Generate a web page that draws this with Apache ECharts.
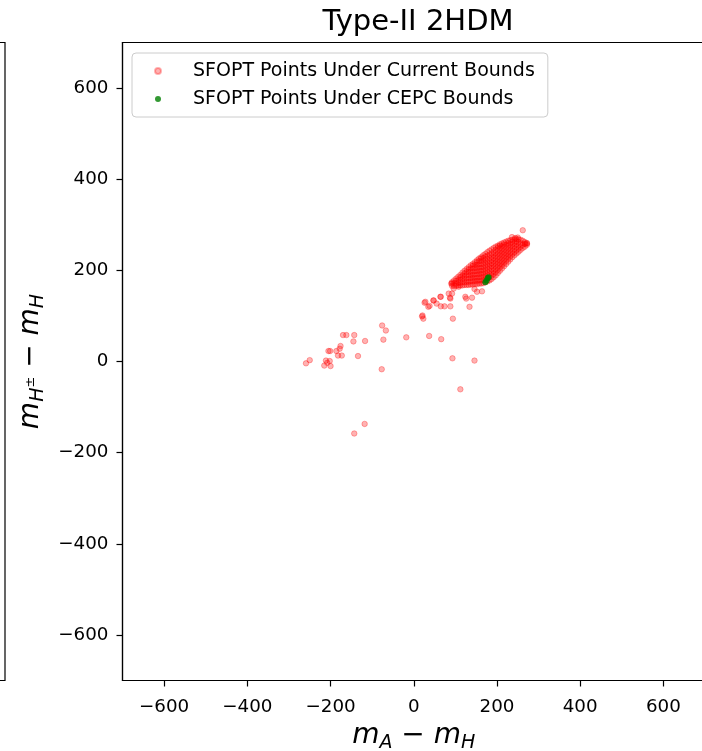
<!DOCTYPE html>
<html>
<head>
<meta charset="utf-8">
<script src="https://cdn.jsdelivr.net/npm/echarts@6/dist/echarts.min.js"></script>
<style>
  html, body { margin: 0; padding: 0; background: #fff; }
  #chart { width: 702px; height: 751px; }
</style>
</head>
<body>
<div id="chart"></div>
<script>
// tick labels on both axes
const xTicks = [-600, -400, -200, 0, 200, 400, 600];
const yTicks = [-600, -400, -200, 0, 200, 400, 600];

// SFOPT points under current bounds: scattered ones
const currentScatter = [
  [-259, -4], [-250, 3], [-215, -9], [-208, -3], [-200, -10], [-211, 2], [-202, 1],
  [-205, 23], [-201, 23], [-186, 23], [-176, 34], [-178, 28], [-182, 13], [-173, 13],
  [-170, 58], [-162, 58], [-143, 58], [-145, 44], [-134, 12], [-117, 45],
  [-76, 79], [-67, 68], [-73, 48], [-77, -17], [-18, 53], [37, 56], [66, 49],
  [93, 7], [146, 2], [112, -61], [-118, -137], [-143, -158],
  [94, 94], [21, 101], [23, 94], [26, 129], [35, 120], [38, 122], [47, 134], [55, 127],
  [65, 142], [65, 121], [74, 121], [88, 121], [87, 140], [20, 99], [28, 131], [48, 134],
  [64, 142], [88, 138], [92, 149], [126, 138], [134, 120], [152, 153], [146, 159],
  [90, 171], [108, 164], [96, 160], [124, 142], [140, 140], [164, 154], [84, 149],
  [262, 288], [268, 259], [272, 259], [236, 273], [250, 272], [244, 271]
];

// SFOPT points under current bounds: dense band, read column by column (x, [y...])
const currentBand = [
  [92, [166, 171, 174]],
  [97, [166, 172, 178]],
  [102, [166, 171, 177, 182]],
  [107, [167, 173, 179, 186]],
  [112, [167, 173, 179, 185, 190]],
  [117, [167, 174, 181, 188, 195]],
  [122, [168, 174, 181, 187, 193, 199]],
  [127, [168, 175, 182, 189, 196, 203]],
  [132, [168, 175, 182, 189, 196, 202, 207]],
  [137, [169, 176, 183, 190, 197, 204, 211]],
  [142, [169, 176, 183, 190, 197, 204, 210, 214]],
  [147, [170, 177, 184, 191, 198, 205, 212, 218]],
  [152, [170, 177, 184, 191, 198, 205, 212, 218, 222]],
  [157, [171, 178, 185, 192, 199, 206, 213, 220, 226]],
  [162, [171, 178, 185, 192, 199, 206, 213, 220, 226, 229]],
  [167, [172, 179, 186, 193, 200, 207, 214, 221, 227, 233]],
  [172, [174, 181, 188, 195, 202, 209, 216, 223, 230, 236]],
  [177, [176, 183, 190, 197, 204, 211, 218, 225, 232, 240]],
  [182, [178, 185, 192, 199, 206, 213, 220, 227, 234, 243]],
  [187, [181, 188, 195, 202, 209, 216, 223, 230, 237, 246]],
  [192, [185, 192, 199, 206, 213, 220, 227, 234, 241, 249]],
  [197, [189, 196, 203, 210, 217, 224, 231, 238, 245, 252]],
  [202, [194, 201, 208, 215, 222, 229, 236, 243, 250, 254]],
  [207, [199, 206, 213, 220, 227, 234, 241, 248, 254, 257]],
  [212, [204, 211, 218, 225, 232, 239, 246, 253, 259]],
  [217, [209, 216, 223, 230, 237, 244, 251, 257, 261]],
  [222, [214, 221, 228, 235, 242, 249, 256, 263]],
  [227, [219, 226, 233, 240, 247, 254, 260, 265]],
  [232, [224, 231, 238, 245, 252, 259, 266]],
  [237, [229, 236, 243, 250, 257, 263, 267]],
  [242, [233, 240, 247, 254, 261, 268]],
  [247, [237, 244, 251, 258, 264, 268]],
  [252, [241, 248, 255, 262, 268]],
  [257, [245, 252, 259, 267]],
  [262, [249, 256, 265]],
  [267, [252, 258, 262]],
  [272, [256, 260]]
];

// SFOPT points under CEPC bounds
const cepcPoints = [[172, 174], [175, 178], [178, 183], [180, 185]];

const currentPoints = currentScatter.slice();
currentBand.forEach(function (col) {
  col[1].forEach(function (y) { currentPoints.push([col[0], y]); });
});

const FONT = "DejaVu Sans";
const minus = function (v) { return v < 0 ? "\u2212" + Math.abs(v) : String(v); };

const mathRich = {
  i: { fontFamily: FONT, fontSize: 28, fontStyle: "italic", color: "#000", lineHeight: 34 },
  n: { fontFamily: FONT, fontSize: 28, color: "#000", lineHeight: 34 },
  s: { fontFamily: FONT, fontSize: 19, fontStyle: "italic", color: "#000", lineHeight: 16, verticalAlign: "bottom" },
  p: { fontFamily: FONT, fontSize: 13, color: "#000", lineHeight: 34, verticalAlign: "middle" }
};

const chart = echarts.init(document.getElementById("chart"), null, { renderer: "canvas" });

chart.setOption({
  animation: false,
  backgroundColor: "#fff",
  title: {
    text: "Type-II 2HDM",
    left: 413,
    textAlign: "center",
    top: 3,
    textStyle: { fontFamily: FONT, fontSize: 29, fontWeight: "normal", color: "#000" }
  },
  legend: {
    orient: "vertical",
    left: 132,
    top: 53,
    padding: [8, 13, 8, 22],
    itemGap: 8,
    itemWidth: 30,
    itemHeight: 6,
    icon: "circle",
    borderColor: "#cccccc",
    borderWidth: 1,
    borderRadius: 4,
    backgroundColor: "rgba(255,255,255,0.8)",
    formatter: function (name) { return "{g| }" + name; },
    textStyle: {
      fontFamily: FONT, fontSize: 19, color: "#000", lineHeight: 20,
      rich: { g: { width: 15, fontSize: 19 } }
    },
    data: ["SFOPT Points Under Current Bounds", "SFOPT Points Under CEPC Bounds"]
  },
  grid: [
    { left: 122.5, top: 42.5, right: -3, bottom: 70.5, show: true, borderColor: "#000", borderWidth: 1.2, outerBoundsMode: "none" },
    // edge of the neighbouring panel, cut off at the left
    { left: -100, width: 105, top: 42.5, bottom: 70.5, show: true, borderColor: "#000", borderWidth: 1.2, outerBoundsMode: "none" }
  ],
  xAxis: [
    {
      type: "value",
      min: -700,
      max: 700,
      name: "{i|m}{s|A}{n| \u2212 }{i|m}{s|H}",
      nameLocation: "middle",
      nameGap: 38,
      nameTextStyle: { rich: mathRich },
      axisLine: { onZero: false, lineStyle: { color: "#000", width: 1.2 } },
      axisTick: { customValues: xTicks, length: 6, lineStyle: { color: "#000", width: 1.2 } },
      axisLabel: {
        customValues: xTicks, margin: 18, formatter: minus,
        fontFamily: FONT, fontSize: 18.3, color: "#000"
      },
      splitLine: { show: false }
    },
    { gridIndex: 1, type: "value", show: false }
  ],
  yAxis: [
    {
      type: "value",
      min: -700,
      max: 700,
      name: "{i|m}{s|H}{p|\u00b1}{n| \u2212 }{i|m}{s|H}",
      nameLocation: "middle",
      nameRotate: 90,
      nameGap: 70,
      nameTextStyle: { rich: mathRich },
      axisLine: { onZero: false, lineStyle: { color: "#000", width: 1.2 } },
      axisTick: { customValues: yTicks, length: 6, lineStyle: { color: "#000", width: 1.2 } },
      axisLabel: {
        customValues: yTicks, margin: 14, formatter: minus,
        fontFamily: FONT, fontSize: 18.3, color: "#000"
      },
      splitLine: { show: false }
    },
    { gridIndex: 1, type: "value", show: false }
  ],
  series: [
    {
      name: "SFOPT Points Under Current Bounds",
      type: "scatter",
      symbolSize: 5.5,
      itemStyle: {
        color: "rgba(255,0,0,0.3)",
        borderColor: "rgba(255,0,0,0.3)",
        borderWidth: 1,
        opacity: 1
      },
      data: currentPoints
    },
    {
      name: "SFOPT Points Under CEPC Bounds",
      type: "scatter",
      symbolSize: 6,
      itemStyle: { color: "#008000" },
      data: cepcPoints
    }
  ]
});
</script>
</body>
</html>
